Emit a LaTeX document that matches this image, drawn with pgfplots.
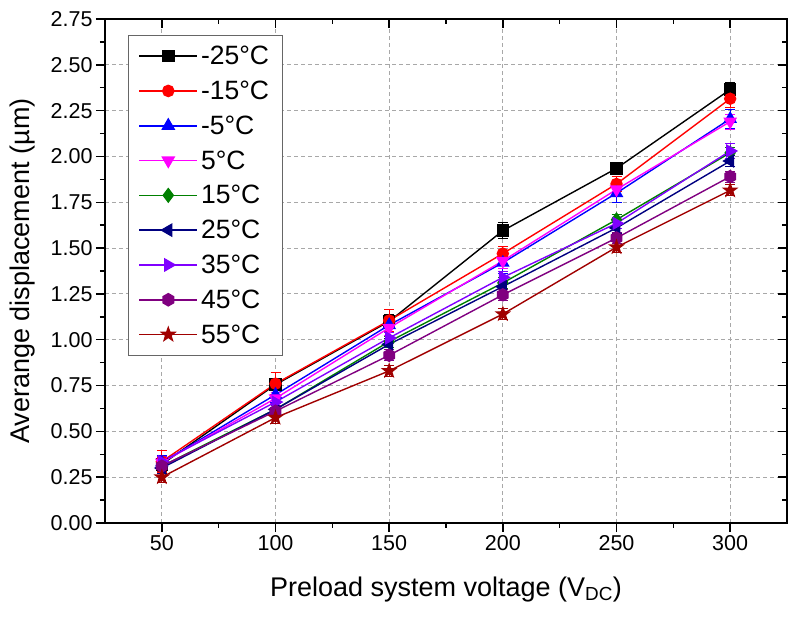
\documentclass[border=0pt]{standalone}
\usepackage{fontspec}
\setmainfont{Liberation Sans}
\usepackage{pgfplots}
\pgfplotsset{compat=1.18}

\definecolor{cA}{HTML}{000000}
\definecolor{cB}{HTML}{FF0000}
\definecolor{cC}{HTML}{0000FF}
\definecolor{cD}{HTML}{FF00FF}
\definecolor{cE}{HTML}{008000}
\definecolor{cF}{HTML}{000080}
\definecolor{cG}{HTML}{8000FF}
\definecolor{cH}{HTML}{800080}
\definecolor{cI}{HTML}{A00000}
\definecolor{gridc}{HTML}{A8A8A8}

\pgfdeclareplotmark{hexagon*}{%
  \pgfpathmoveto{\pgfpointpolar{90}{\pgfplotmarksize}}%
  \pgfpathlineto{\pgfpointpolar{150}{\pgfplotmarksize}}%
  \pgfpathlineto{\pgfpointpolar{210}{\pgfplotmarksize}}%
  \pgfpathlineto{\pgfpointpolar{270}{\pgfplotmarksize}}%
  \pgfpathlineto{\pgfpointpolar{330}{\pgfplotmarksize}}%
  \pgfpathlineto{\pgfpointpolar{30}{\pgfplotmarksize}}%
  \pgfpathclose\pgfusepathqfillstroke}
\pgfdeclareplotmark{fstar}{%
  \pgfpathmoveto{\pgfpointpolar{90}{1.2*\pgfplotmarksize}}%
  \pgfpathlineto{\pgfpointpolar{126}{0.48*\pgfplotmarksize}}%
  \pgfpathlineto{\pgfpointpolar{162}{1.2*\pgfplotmarksize}}%
  \pgfpathlineto{\pgfpointpolar{198}{0.48*\pgfplotmarksize}}%
  \pgfpathlineto{\pgfpointpolar{234}{1.2*\pgfplotmarksize}}%
  \pgfpathlineto{\pgfpointpolar{270}{0.48*\pgfplotmarksize}}%
  \pgfpathlineto{\pgfpointpolar{306}{1.2*\pgfplotmarksize}}%
  \pgfpathlineto{\pgfpointpolar{342}{0.48*\pgfplotmarksize}}%
  \pgfpathlineto{\pgfpointpolar{18}{1.2*\pgfplotmarksize}}%
  \pgfpathlineto{\pgfpointpolar{54}{0.48*\pgfplotmarksize}}%
  \pgfpathclose\pgfusepathqfillstroke}

\pgfplotsset{
  ser/.style={line width=1.4pt, mark size=5.5pt, mark options={solid},
    error bars/.cd, y dir=both, y explicit,
    error bar style={line width=0.9pt},
    error mark options={rotate=90, mark size=5pt, line width=0.9pt},
    /pgfplots/.cd},
}

\begin{document}
\begin{tikzpicture}
\begin{axis}[
  scale only axis, width=682pt, height=504pt,
  xmin=25, xmax=325, ymin=0, ymax=2.75,
  xtick={50,100,...,300}, minor xtick={75,125,...,275},
  ytick={0,0.25,...,2.75}, minor ytick={0.125,0.375,...,2.625},
  xtick pos=bottom, ytick pos=left, tick align=outside,
  major tick length=9pt, minor tick length=5pt,
  every tick/.style={black, line width=1.5pt},
  axis line style={line width=1.8pt},
  grid=major, major grid style={gridc, line width=0.9pt, dash pattern=on 4pt off 3pt},
  /pgf/number format/assume math mode=true,
  /pgf/number format/.cd, fixed, fixed zerofill, precision=2, /pgfplots/.cd,
  xticklabel style={/pgf/number format/precision=0, /pgf/number format/fixed zerofill=false},
  tick label style={font=\fontsize{21.5}{24}\selectfont},
  xlabel={Preload system voltage (V\textsubscript{DC})},
  ylabel={Averange displacement (µm)},
  label style={font=\fontsize{27}{30}\selectfont},
  xlabel style={yshift=-19pt},
  ylabel style={yshift=9pt},
  legend style={at={(rel axis cs:0.0337,0.969)}, anchor=north west,
    draw=black!60, line width=1pt, fill=white,
    font=\fontsize{26.5}{28}\selectfont, row sep=14.8pt,
    inner xsep=10pt, inner ysep=11pt,
    nodes={inner xsep=3pt, inner ysep=0pt}},
  legend cell align=left,
  legend image code/.code={\draw[line width=1.6pt, mark repeat=2,mark phase=2] plot coordinates {(0pt,0pt) (29pt,0pt) (58pt,0pt)};},
]
\addplot[ser, color=cA, mark=square*] table[x=x,y=y,y error=e] {
x y e
50 0.320 0.03
100 0.755 0.03
150 1.100 0.04
200 1.595 0.045
250 1.935 0.03
300 2.365 0.04
};
\addlegendentry{-25°C}
\addplot[ser, color=cB, mark=*] table[x=x,y=y,y error=e] {
x y e
50 0.335 0.06
100 0.760 0.06
150 1.105 0.06
200 1.470 0.04
250 1.850 0.04
300 2.315 0.05
};
\addlegendentry{-15°C}
\addplot[ser, color=cC, mark=triangle*, mark size=6.5pt] table[x=x,y=y,y error=e] {
x y e
50 0.330 0.04
100 0.700 0.04
150 1.080 0.04
200 1.420 0.06
250 1.800 0.05
300 2.205 0.05
};
\addlegendentry{-5°C}
\addplot[ser, color=cD, mark=triangle*, mark size=6.5pt, mark options={rotate=180}] table[x=x,y=y,y error=e] {
x y e
50 0.330 0.03
100 0.680 0.03
150 1.065 0.04
200 1.430 0.04
250 1.820 0.04
300 2.190 0.04
};
\addlegendentry{5°C}
\addplot[ser, color=cE, mark=diamond*, mark size=6.5pt] table[x=x,y=y,y error=e] {
x y e
50 0.310 0.03
100 0.620 0.03
150 0.990 0.03
200 1.310 0.03
250 1.655 0.03
300 2.020 0.03
};
\addlegendentry{15°C}
\addplot[ser, color=cF, mark=triangle*, mark size=6.5pt, mark options={rotate=90}] table[x=x,y=y,y error=e] {
x y e
50 0.300 0.03
100 0.620 0.03
150 0.975 0.03
200 1.290 0.03
250 1.610 0.03
300 1.975 0.03
};
\addlegendentry{25°C}
\addplot[ser, color=cG, mark=triangle*, mark size=6.5pt, mark options={rotate=-90}] table[x=x,y=y,y error=e] {
x y e
50 0.335 0.03
100 0.660 0.03
150 1.010 0.03
200 1.340 0.03
250 1.635 0.03
300 2.030 0.04
};
\addlegendentry{35°C}
\addplot[ser, color=cH, mark=hexagon*, mark size=6pt] table[x=x,y=y,y error=e] {
x y e
50 0.310 0.03
100 0.610 0.03
150 0.915 0.03
200 1.245 0.03
250 1.555 0.03
300 1.890 0.03
};
\addlegendentry{45°C}
\addplot[ser, color=cI, mark=fstar, mark size=5.5pt] table[x=x,y=y,y error=e] {
x y e
50 0.250 0.03
100 0.575 0.03
150 0.830 0.03
200 1.140 0.03
250 1.505 0.03
300 1.815 0.03
};
\addlegendentry{55°C}
\end{axis}
\begin{axis}[
  scale only axis, width=682pt, height=504pt,
  xmin=25, xmax=325, ymin=0, ymax=2.75,
  xtick={50,100,...,300}, minor xtick={75,125,...,275},
  ytick={0,0.25,...,2.75}, minor ytick={0.125,0.375,...,2.625},
  xtick pos=top, ytick pos=right, tick align=inside,
  major tick length=9pt, minor tick length=5pt,
  every tick/.style={black, line width=1.5pt},
  axis line style={line width=1.8pt},
  xticklabels={}, yticklabels={},
]
\end{axis}
\pgfresetboundingbox
\path[use as bounding box] ([shift={(-105pt,-95pt)}]current axis.south west) rectangle ([shift={(11pt,19pt)}]current axis.north east);
\end{tikzpicture}
\end{document}
